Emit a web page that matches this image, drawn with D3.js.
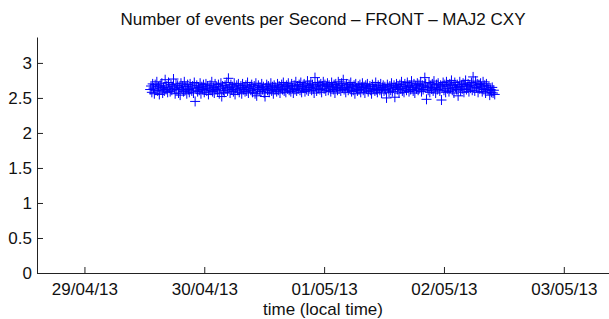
<!DOCTYPE html>
<html>
<head>
<meta charset="utf-8">
<script src="https://cdn.jsdelivr.net/npm/d3@7"></script>
<style>
  body { margin: 0; background: #fff; }
  svg { display: block; font-family: "Liberation Sans", Arial, sans-serif; }
</style>
</head>
<body>
<div id="chart"></div>
<script>
// Serie: eventos por segundo, una muestra cada 10 minutos desde el 29/04/13 13:10
const sampleStart = new Date(2013, 3, 29, 13, 10);
const sampleStepMinutes = 10;
const eventsPerSecond = [
  2.62, 2.67, 2.58, 2.70, 2.64, 2.56, 2.69, 2.61, 2.73, 2.60, 2.66, 2.55,
  2.68, 2.63, 2.71, 2.57, 2.65, 2.60, 2.76, 2.62, 2.67, 2.58, 2.72, 2.64,
  2.59, 2.69, 2.61, 2.66, 2.77, 2.63, 2.56, 2.70, 2.62, 2.68, 2.57, 2.65,
  2.54, 2.71, 2.63, 2.67, 2.59, 2.73, 2.61, 2.66, 2.56, 2.69, 2.62, 2.58,
  2.70, 2.64, 2.60, 2.67, 2.57, 2.72, 2.45, 2.63, 2.68, 2.59, 2.65, 2.61,
  2.71, 2.56, 2.66, 2.62, 2.69, 2.58, 2.64, 2.70, 2.60, 2.67, 2.55, 2.63,
  2.68, 2.61, 2.73, 2.59, 2.65, 2.57, 2.70, 2.62, 2.66, 2.60, 2.69, 2.56,
  2.64, 2.71, 2.52, 2.67, 2.61, 2.58, 2.68, 2.63, 2.72, 2.60, 2.78, 2.65,
  2.57, 2.69, 2.62, 2.66, 2.59, 2.71, 2.55, 2.64, 2.68, 2.61, 2.70, 2.58,
  2.63, 2.67, 2.56, 2.70, 2.62, 2.65, 2.59, 2.68, 2.60, 2.72, 2.57, 2.64,
  2.66, 2.61, 2.69, 2.58, 2.63, 2.67, 2.56, 2.71, 2.53, 2.62, 2.68, 2.60,
  2.65, 2.59, 2.70, 2.62, 2.66, 2.57, 2.52, 2.64, 2.69, 2.61, 2.67, 2.58,
  2.63, 2.71, 2.60, 2.66, 2.56, 2.68, 2.62, 2.65, 2.59, 2.70, 2.61, 2.67,
  2.57, 2.64, 2.69, 2.62, 2.72, 2.60, 2.66, 2.58, 2.68, 2.63, 2.71, 2.61,
  2.66, 2.59, 2.70, 2.64, 2.57, 2.68, 2.62, 2.73, 2.60, 2.67, 2.63, 2.69,
  2.61, 2.72, 2.58, 2.66, 2.64, 2.70, 2.59, 2.67, 2.62, 2.74, 2.60, 2.68,
  2.65, 2.71, 2.61, 2.69, 2.63, 2.57, 2.79, 2.66, 2.60, 2.72, 2.64, 2.68,
  2.62, 2.70, 2.58, 2.67, 2.73, 2.63, 2.69, 2.60, 2.66, 2.71, 2.61, 2.68,
  2.64, 2.59, 2.72, 2.66, 2.62, 2.69, 2.57, 2.70, 2.65, 2.61, 2.73, 2.63,
  2.68, 2.60, 2.71, 2.64, 2.76, 2.62, 2.67, 2.58, 2.70, 2.65, 2.61, 2.69,
  2.63, 2.72, 2.59, 2.66, 2.61, 2.68, 2.56, 2.70, 2.64, 2.60, 2.67, 2.62,
  2.69, 2.58, 2.65, 2.71, 2.61, 2.66, 2.57, 2.68, 2.63, 2.70, 2.59, 2.64,
  2.67, 2.61, 2.56, 2.69, 2.63, 2.66, 2.60, 2.72, 2.62, 2.58, 2.68, 2.64,
  2.61, 2.70, 2.57, 2.65, 2.68, 2.60, 2.66, 2.62, 2.50, 2.69, 2.63, 2.58,
  2.67, 2.61, 2.71, 2.59, 2.64, 2.68, 2.51, 2.65, 2.70, 2.62, 2.66, 2.57,
  2.69, 2.63, 2.73, 2.60, 2.67, 2.58, 2.70, 2.64, 2.61, 2.72, 2.66, 2.59,
  2.68, 2.62, 2.74, 2.65, 2.60, 2.70, 2.57, 2.67, 2.63, 2.71, 2.61, 2.69,
  2.64, 2.73, 2.59, 2.68, 2.62, 2.66, 2.79, 2.70, 2.48, 2.65, 2.61, 2.72,
  2.58, 2.67, 2.63, 2.70, 2.60, 2.74, 2.65, 2.57, 2.69, 2.62, 2.71, 2.64,
  2.60, 2.68, 2.47, 2.66, 2.72, 2.61, 2.69, 2.58, 2.73, 2.63, 2.67, 2.59,
  2.70, 2.64, 2.75, 2.61, 2.68, 2.57, 2.72, 2.65, 2.62, 2.69, 2.53, 2.66,
  2.73, 2.60, 2.67, 2.63, 2.71, 2.58, 2.69, 2.75, 2.62, 2.66, 2.70, 2.59,
  2.68, 2.64, 2.72, 2.61, 2.80, 2.67, 2.60, 2.74, 2.65, 2.70, 2.58, 2.69,
  2.63, 2.71, 2.66, 2.59, 2.73, 2.62, 2.68, 2.57, 2.70, 2.64, 2.61, 2.67,
  2.54, 2.62, 2.58, 2.65, 2.57, 2.61, 2.55
];

// Ejes
const timeDomain = [new Date(2013, 3, 28, 14, 30), new Date(2013, 4, 3, 9, 3)];
const dayTicks = [
  new Date(2013, 3, 29), new Date(2013, 3, 30), new Date(2013, 4, 1),
  new Date(2013, 4, 2), new Date(2013, 4, 3)
];
const valueTicks = [0, 0.5, 1, 1.5, 2, 2.5, 3];
const valueMax = 3.37;

const titleText = 'Number of events per Second \u2013 FRONT \u2013 MAJ2 CXY';
const xLabelText = 'time (local time)';

const width = 609, height = 319;
const margin = { top: 37, right: 0, bottom: 46, left: 37 };
const fontSize = 17;

const svg = d3.select('#chart').append('svg')
  .attr('width', width)
  .attr('height', height);

const x = d3.scaleTime()
  .domain(timeDomain)
  .range([margin.left, width - margin.right]);

const y = d3.scaleLinear()
  .domain([0, valueMax])
  .range([height - margin.bottom, margin.top]);

const points = eventsPerSecond.map((v, i) => ({
  t: d3.timeMinute.offset(sampleStart, i * sampleStepMinutes),
  v: v
}));

// Marcadores '+' estilo MATLAB
const arm = 5;
svg.append('g')
  .selectAll('path')
  .data(points)
  .join('path')
  .attr('transform', d => `translate(${x(d.t)},${y(d.v)})`)
  .attr('d', `M${-arm},0H${arm}M0,${-arm}V${arm}`)
  .attr('fill', 'none')
  .attr('stroke', '#0000ff')
  .attr('stroke-width', 1);

const xAxis = svg.append('g')
  .attr('transform', `translate(0,${height - margin.bottom})`)
  .call(d3.axisBottom(x)
    .tickValues(dayTicks)
    .tickFormat(d3.timeFormat('%d/%m/%y'))
    .tickSizeInner(-6)
    .tickSizeOuter(0)
    .tickPadding(10));

const yAxis = svg.append('g')
  .attr('transform', `translate(${margin.left},0)`)
  .call(d3.axisLeft(y)
    .tickValues(valueTicks)
    .tickFormat(d3.format('~g'))
    .tickSizeInner(-6)
    .tickSizeOuter(0)
    .tickPadding(5));

[xAxis, yAxis].forEach(g => {
  g.select('.domain').attr('stroke', '#222');
  g.selectAll('.tick line').attr('stroke', '#222');
  g.selectAll('.tick text')
    .attr('fill', '#111')
    .style('font-size', fontSize + 'px')
    .style('font-family', '"Liberation Sans", Arial, sans-serif');
});

svg.append('text')
  .attr('x', (margin.left + width - margin.right) / 2)
  .attr('y', 25)
  .attr('text-anchor', 'middle')
  .attr('fill', '#111')
  .style('font-size', fontSize + 'px')
  .text(titleText);

svg.append('text')
  .attr('x', (margin.left + width - margin.right) / 2)
  .attr('y', 315)
  .attr('text-anchor', 'middle')
  .attr('fill', '#111')
  .style('font-size', fontSize + 'px')
  .text(xLabelText);
</script>
</body>
</html>
